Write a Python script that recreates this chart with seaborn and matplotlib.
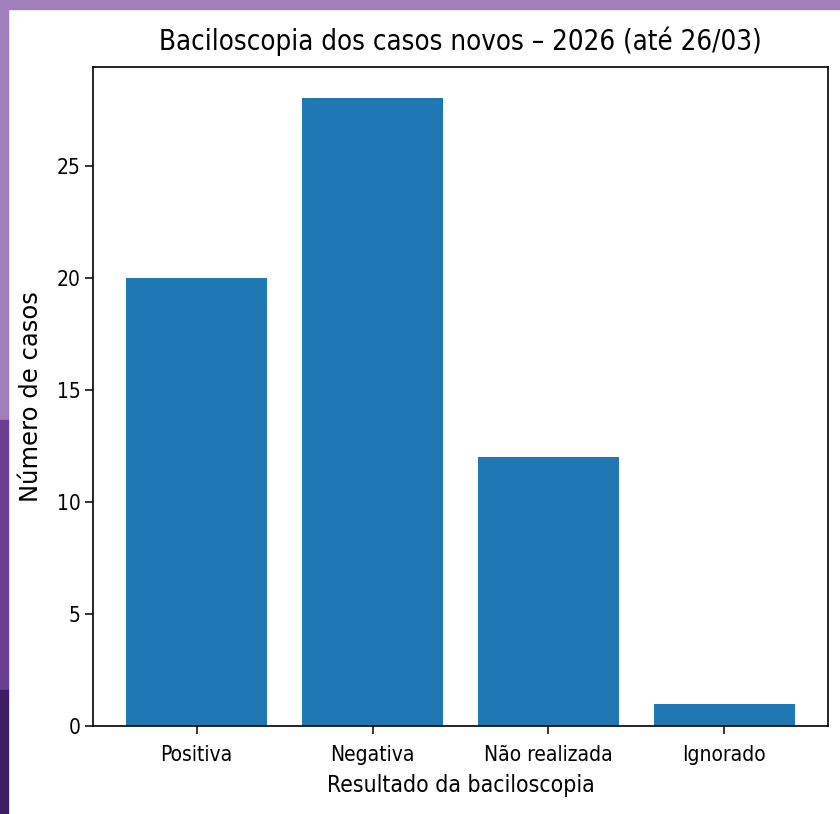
"""Baciloscopia dos casos novos - bar chart recreated with seaborn."""

import matplotlib

matplotlib.use("Agg")
import matplotlib.pyplot as plt
import matplotlib.patches as mpatches
import seaborn as sns

categorias = ["Positiva", "Negativa", "Não realizada", "Ignorado"]
casos = [20, 28, 12, 1]
yticks = [0, 5, 10, 15, 20, 25]

TITLE = "Baciloscopia dos casos novos – 2026 (até 26/03)"
XLABEL = "Resultado da baciloscopia"
YLABEL = "Número de casos"

plt.rcParams["font.family"] = ["DejaVu Sans"]
plt.rcParams["font.stretch"] = "condensed"

fig = plt.figure(figsize=(8.4, 8.14), dpi=100, facecolor="white")
ax = fig.add_axes([93 / 840, 88 / 814, 735 / 840, 659 / 814])

sns.barplot(x=categorias, y=casos, color="#1f77b4", saturation=1, width=0.8, ax=ax)

ax.set_xlim(-0.59, 3.59)
ax.set_ylim(0, max(casos) * 1.05)
ax.set_yticks(yticks)
ax.set_title(TITLE, fontsize=19.8, pad=12)
ax.set_xlabel(XLABEL, fontsize=16.5, labelpad=7)
ax.set_ylabel(YLABEL, fontsize=17.5, labelpad=10, fontstretch="normal")
ax.tick_params(labelsize=15, length=5.5, width=1.1)
ax.tick_params(axis="x", pad=8)
for s in ax.spines.values():
    s.set_linewidth(1.2)
    s.set_color("black")

# purple frame of the screenshot
fig.patches.append(mpatches.Rectangle((0, 1 - 9 / 814), 1, 9 / 814, transform=fig.transFigure,
                                      color="#a17fbd", zorder=0))
fig.patches.append(mpatches.Rectangle((0, 394 / 814), 8 / 840, 420 / 814, transform=fig.transFigure,
                                      color="#a17fbd", zorder=0))
fig.patches.append(mpatches.Rectangle((0, 124 / 814), 8 / 840, 270 / 814, transform=fig.transFigure,
                                      color="#6a3f92", zorder=0))
fig.patches.append(mpatches.Rectangle((0, 0), 8 / 840, 124 / 814, transform=fig.transFigure,
                                      color="#3f1d63", zorder=0))

fig.savefig("out.png", dpi=100)
